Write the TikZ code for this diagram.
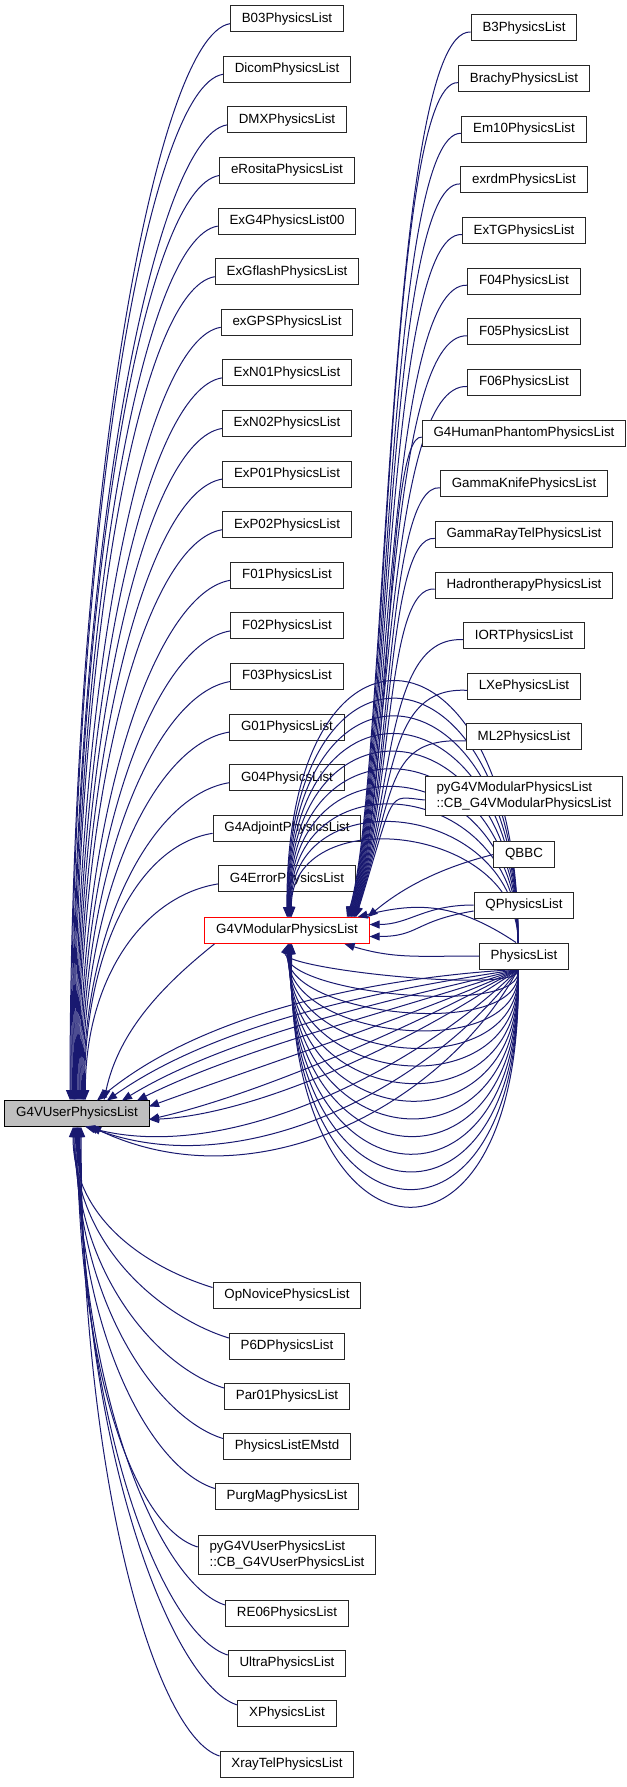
\documentclass[tikz,border=0pt]{standalone}
\usepackage{fontspec}
\setmainfont{Liberation Sans}
\usetikzlibrary{positioning,calc,arrows.meta}

\definecolor{edgeblue}{RGB}{25,25,112}
\definecolor{basegray}{RGB}{191,191,191}

\pgfdeclarelayer{edges}
\pgfdeclarelayer{front}
\pgfsetlayers{main,edges,front}

\tikzset{
    cls/.style={draw=black!85, fill=white, line width=0.75pt,
        font=\fontsize{10}{11.5}\selectfont, inner xsep=8.5pt, inner ysep=0pt,
        minimum height=19.5pt, align=left},
    twoline/.style={cls, inner ysep=4.5pt},
    inherit/.style={draw=edgeblue, line width=0.75pt, -{Triangle[length=7.5pt,width=6pt]}},
}

\begin{document}
\begin{tikzpicture}[x=0.75pt, y=-0.75pt]

    \useasboundingbox (0,0) rectangle (627,1787);

    % base classes
    \node[cls, fill=basegray, draw=black] (user) at (77,1113.5) {G4VUserPhysicsList};
    \node[cls, draw=red] (modular) at (287,930.5) {G4VModularPhysicsList};

    % direct subclasses, upper half
    \foreach \nm/\txt [count=\i from 0] in {b03/B03PhysicsList, dicom/DicomPhysicsList,
        dmx/DMXPhysicsList, erosita/eRositaPhysicsList, exg4/ExG4PhysicsList00,
        exgflash/ExGflashPhysicsList, exgps/exGPSPhysicsList, exn01/ExN01PhysicsList,
        exn02/ExN02PhysicsList, exp01/ExP01PhysicsList, exp02/ExP02PhysicsList,
        f01/F01PhysicsList, f02/F02PhysicsList, f03/F03PhysicsList, g01/G01PhysicsList,
        g04/G04PhysicsList, adjoint/G4AdjointPhysicsList, error/G4ErrorPhysicsList} {
        \node[cls] (\nm) at (287, {18.7+50.6*\i}) {\txt};
    }

    % direct subclasses, lower half
    \foreach \nm/\txt/\y in {opnovice/OpNovicePhysicsList/1295.5, p6d/P6DPhysicsList/1346,
        par01/Par01PhysicsList/1396, emstd/PhysicsListEMstd/1446.5,
        purgmag/PurgMagPhysicsList/1496.5, re06/RE06PhysicsList/1613,
        ultra/UltraPhysicsList/1663, xphys/XPhysicsList/1713, xraytel/XrayTelPhysicsList/1764} {
        \node[cls] (\nm) at (287, \y) {\txt};
    }
    \node[twoline] (pyuser) at (287,1555) {pyG4VUserPhysicsList\\::CB\_G4VUserPhysicsList};

    % modular subclasses (boxes sit over the edges)
    \begin{pgfonlayer}{front}
        \foreach \nm/\txt [count=\i from 0] in {b3/B3PhysicsList, brachy/BrachyPhysicsList,
            em10/Em10PhysicsList, exrdm/exrdmPhysicsList, extg/ExTGPhysicsList,
            f04/F04PhysicsList, f05/F05PhysicsList, f06/F06PhysicsList,
            human/G4HumanPhantomPhysicsList, knife/GammaKnifePhysicsList,
            raytel/GammaRayTelPhysicsList, hadron/HadrontherapyPhysicsList,
            iort/IORTPhysicsList, lxe/LXePhysicsList, ml2/ML2PhysicsList} {
            \node[cls] (\nm) at (524, {28+50.64*\i}) {\txt};
        }
        \node[twoline] (pymod) at (524,796) {pyG4VModularPhysicsList\\::CB\_G4VModularPhysicsList};
        \node[cls] (qbbc) at (524,854.5) {QBBC};
        \node[cls] (qphys) at (524,905) {QPhysicsList};
        \node[cls] (physlist) at (524,956) {PhysicsList};
    \end{pgfonlayer}

    \coordinate (bundle) at (386,0);

    \begin{pgfonlayer}{edges}
        % upper half to G4VUserPhysicsList
        \foreach \nm [count=\i from 0] in {b03,dicom,dmx,erosita,exg4,exgflash,exgps,exn01,
            exn02,exp01,exp02,f01,f02,f03,g01,g04,adjoint,error} {
            \pgfmathsetmacro{\h}{0.55*(1100-(18.7+50.6*\i))}
            \draw[inherit] ($(\nm.west)+(0,5)$) .. controls +(-75,12) and +(0,-\h)
                .. ($(user.north)+(-7+0.9*\i,0)$);
        }

        % lower half to G4VUserPhysicsList
        \foreach \nm/\y [count=\i from 0] in {opnovice/1295.5, p6d/1346, par01/1396,
            emstd/1446.5, purgmag/1496.5, pyuser/1555, re06/1613, ultra/1663,
            xphys/1713, xraytel/1764} {
            \pgfmathsetmacro{\h}{0.55*(\y-1127)}
            \draw[inherit] ($(\nm.west)+(0,-8)$) .. controls +(-65,-20) and +(0,\h)
                .. ($(user.south)+(-4+0.9*\i,0)$);
        }

        % modular base to user base
        \draw[inherit] ($(modular.south west)+(10,0)$) .. controls +(-50,40) and +(15,-70)
            .. ($(user.north)+(27,0)$);

        % right column to G4VModularPhysicsList
        \foreach \nm [count=\i from 0] in {b3,brachy,em10,exrdm,extg,f04,f05,f06,human,
            knife,raytel,hadron,iort,lxe,ml2,pymod} {
            \draw[inherit] ($(\nm.west)+(0,4)$) .. controls (bundle |- \nm.west) and +(40,-130)
                .. ($(modular.north)+(60+0.6*\i,0)$);
        }

        % PhysicsList arches over the top
        \foreach \k in {0,...,9} {
            \pgfmathsetmacro{\h}{(930.5-(683+17.7*\k))/0.75}
            \draw[inherit] ($(physlist.north)+(-6,0)$) .. controls +(2,-\h) and +(-2,-\h)
                .. ($(modular.north)+(0.5*\k,0)$);
        }

        % PhysicsList loops underneath
        \foreach \k in {0,...,13} {
            \pgfmathsetmacro{\h}{(975+17.7*\k-956)/0.75}
            \draw[inherit] ($(physlist.south)+(-6,0)$) .. controls +(8,\h) and +(-8,\h)
                .. ($(modular.south)+(1+0.3*\k,0)$);
        }

        % PhysicsList straight to G4VUserPhysicsList
        \foreach \ex/\ey/\ax/\ay/\bx/\by in {20/-13/-100/5/120/-100, 30/-13/-100/15/120/-85,
            45/-13/-100/25/115/-70, 60/-13/-100/35/110/-55, 72/-7/-100/45/110/-40,
            72/6/-100/55/110/-25, 72/6/-100/70/110/-5, 8/13/-90/90/150/40,
            11/13/-80/110/160/60, 14/13/-70/130/170/80} {
            \draw[inherit] ($(physlist.south)+(-6,0)$) .. controls +(\ax,\ay) and +(\bx,\by)
                .. ($(user.center)+(\ex,\ey)$);
        }

        % Q lists and the rest into the right side
        \draw[inherit] (qbbc.west) .. controls +(-60,15) and +(30,-25)
            .. ($(modular.north east)+(-2,0)$);
        \draw[inherit] (qphys.west) .. controls +(-50,0) and +(40,0)
            .. ($(modular.east)+(0,-6)$);
        \draw[inherit] ($(qphys.west)+(0,6)$) .. controls +(-60,10) and +(50,0)
            .. ($(modular.east)+(0,6)$);
        \draw[inherit] (physlist.west) .. controls +(-60,0) and +(50,15)
            .. ($(modular.south east)+(-25,0)$);
        \draw[inherit] ($(physlist.north)+(-8,0)$) .. controls +(-60,-40) and +(60,-15)
            .. ($(modular.north east)+(-12,0)$);
    \end{pgfonlayer}

\end{tikzpicture}
\end{document}
